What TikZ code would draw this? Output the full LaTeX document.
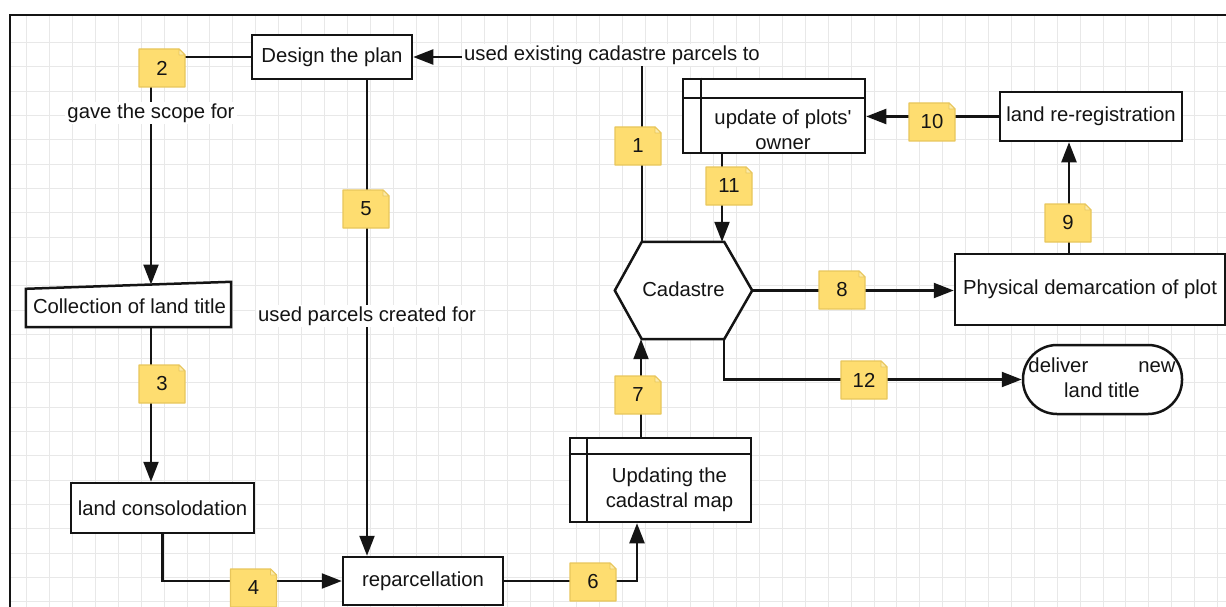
\documentclass[tikz,border=0pt]{standalone}
\usepackage{fontspec}
\setmainfont{Liberation Sans}
\usetikzlibrary{arrows.meta,calc}

\definecolor{gridgray}{RGB}{232,232,232}
\definecolor{notefill}{RGB}{254,221,112}
\definecolor{noteedge}{RGB}{232,198,92}
\definecolor{notefold}{RGB}{252,234,168}
\definecolor{ink}{RGB}{20,20,20}

\tikzset{
  every node/.style={font=\fontsize{20.3}{25}\selectfont, text=ink},
  box/.style={draw=ink, line width=2.5pt, fill=white, inner sep=0pt},
  ghost/.style={draw=none, fill=none, inner sep=0pt},
  conn/.style={draw=ink, line width=2.2pt},
  arr/.style={conn, -{Triangle[length=20pt,width=15pt]}},
  lbl/.style={fill=white, inner sep=2pt},
  gridline/.style={draw=gridgray, line width=1pt},
  notebody/.style={fill=notefill, draw=noteedge, line width=1.2pt, line join=round},
  notecorner/.style={fill=notefold, draw=noteedge, line width=0.8pt, line join=round},
  notetext/.style={inner sep=0pt},
}

% sticky note: name, centre, text
\newcommand{\stickynote}[3]{%
  \begin{scope}[shift={(#2)}]
    \path[notebody] (-23,-19) -- (17,-19) -- (23,-13) -- (23,19) -- (-23,19) -- cycle;
    \path[notecorner] (17,-19) -- (23,-13) -- (17,-13) -- cycle;
  \end{scope}
  \node[notetext] (#1) at (#2) {#3};
}

\begin{document}
\begin{tikzpicture}[x=1pt,y=-1pt]
\useasboundingbox (0,0) rectangle (1226,607);
\fill[white] (0,0) rectangle (1226,607);

% background grid
\foreach \i in {0,...,52} \draw[gridline] ({26.7+22.9*\i},15) -- ({26.7+22.9*\i},607);
\foreach \j in {0,...,23} \draw[gridline] (10,{42.7+24.3*\j}) -- (1226,{42.7+24.3*\j});

% frame
\draw[ink, line width=2.4pt] (10,612) -- (10,15) -- (1232,15);

% ---------- nodes ----------
\node[box, minimum width=160, minimum height=44] (design) at (332,57) {Design the plan};

\node[ghost, minimum width=205, minimum height=45] (coll) at (128.5,304.5) {};
\draw[box] (coll.south west) -- (coll.south east) -- (coll.north east) -- ($(coll.north west)+(0,7)$) -- cycle;
\node (colltxt) at (129.5,306) {Collection of land title};

\node[box, minimum width=183, minimum height=50] (consol) at (162.5,508) {land consolodation};
\node[box, minimum width=160, minimum height=48] (reparc) at (423,581) {reparcellation};

\node[box, minimum width=181, minimum height=84] (updmap) at (660.5,480) {};
\draw[ink, line width=2.2pt] ($(updmap.north west)+(0,17)$) -- ($(updmap.north east)+(0,17)$);
\draw[ink, line width=2.2pt] ($(updmap.north west)+(18,0)$) -- ($(updmap.south west)+(18,0)$);
\node[align=center] (updmaptxt) at (669.5,489.5) {Updating the\\cadastral map};

\node[ghost, minimum width=137, minimum height=97] (cad) at (683.5,290.5) {};
\draw[box] (cad.west) -- ($(cad.north west)+(27,0)$) -- ($(cad.north east)+(-28,0)$) -- (cad.east)
  -- ($(cad.south east)+(-28,0)$) -- ($(cad.south west)+(27,0)$) -- cycle;
\node (cadtxt) at (683.5,289) {Cadastre};

\node[box, minimum width=182, minimum height=74] (upd) at (774,116) {};
\draw[ink, line width=2.2pt] ($(upd.north west)+(0,20)$) -- ($(upd.north east)+(0,20)$);
\draw[ink, line width=2.2pt] ($(upd.north west)+(19,0)$) -- ($(upd.south west)+(19,0)$);
\node[align=center] (updtxt) at (783,129.5) {update of plots\textquotesingle\\owner};

\node[box, minimum width=182, minimum height=49] (rereg) at (1091,116.5) {land re-registration};
\node[box, minimum width=270, minimum height=71] (phys) at (1090,289.5) {Physical demarcation of plot};
\node[box, minimum width=159, minimum height=69, rounded corners=34] (deliver) at (1102.5,379.5) {};
\node[align=center] (delivertxt) at (1102,377.5) {deliver\hspace{50pt}new\\land title};

% attachment columns and corners
\coordinate (cadTL) at ($(cad.north west)+(27,0)$);
\coordinate (cadBR) at ($(cad.south east)+(-28,0)$);
\coordinate (collTop) at (151,284.5);
\coordinate (c5) at (367,0);
\coordinate (c6) at (637,0);
\coordinate (c7) at (641,0);
\coordinate (c9) at (1069,0);
\coordinate (c11) at (722,0);

% ---------- connectors ----------
\draw[arr] (cadTL) -- (cadTL |- design.east) -- (design.east);
\node[lbl] (l1) at (612,55) {used existing cadastre parcels to};

\draw[arr] (design.west) -| (collTop);
\node[lbl] (l2) at (151,113) {gave the scope for};

\draw[arr] (collTop |- coll.south) -- (collTop |- consol.north);
\draw[arr] (consol.south) |- (reparc.west);

\draw[arr] (c5 |- design.south) -- (c5 |- reparc.north);
\node[lbl] (l5) at (367,316) {used parcels created for};

\draw[arr] (reparc.east) -| (c6 |- updmap.south);
\draw[arr] (c7 |- updmap.north) -- (c7 |- cad.south);
\draw[arr] (cad.east) -- (cad.east -| phys.west);
\draw[arr] (c9 |- phys.north) -- (c9 |- rereg.south);
\draw[arr] (rereg.west) -- (rereg.west -| upd.east);
\draw[arr] (c11 |- upd.south) -- (c11 |- cad.north);
\draw[arr] (cadBR) |- (deliver.west);

% ---------- numbered notes ----------
\stickynote{n1}{638,146}{1}
\stickynote{n2}{162,68}{2}
\stickynote{n3}{162,384}{3}
\stickynote{n4}{253.5,588}{4}
\stickynote{n5}{366,209}{5}
\stickynote{n6}{593,582}{6}
\stickynote{n7}{638,395}{7}
\stickynote{n8}{842,290}{8}
\stickynote{n9}{1068,223}{9}
\stickynote{n10}{932,122}{10}
\stickynote{n11}{729,186}{11}
\stickynote{n12}{864,380}{12}
\end{tikzpicture}
\end{document}
